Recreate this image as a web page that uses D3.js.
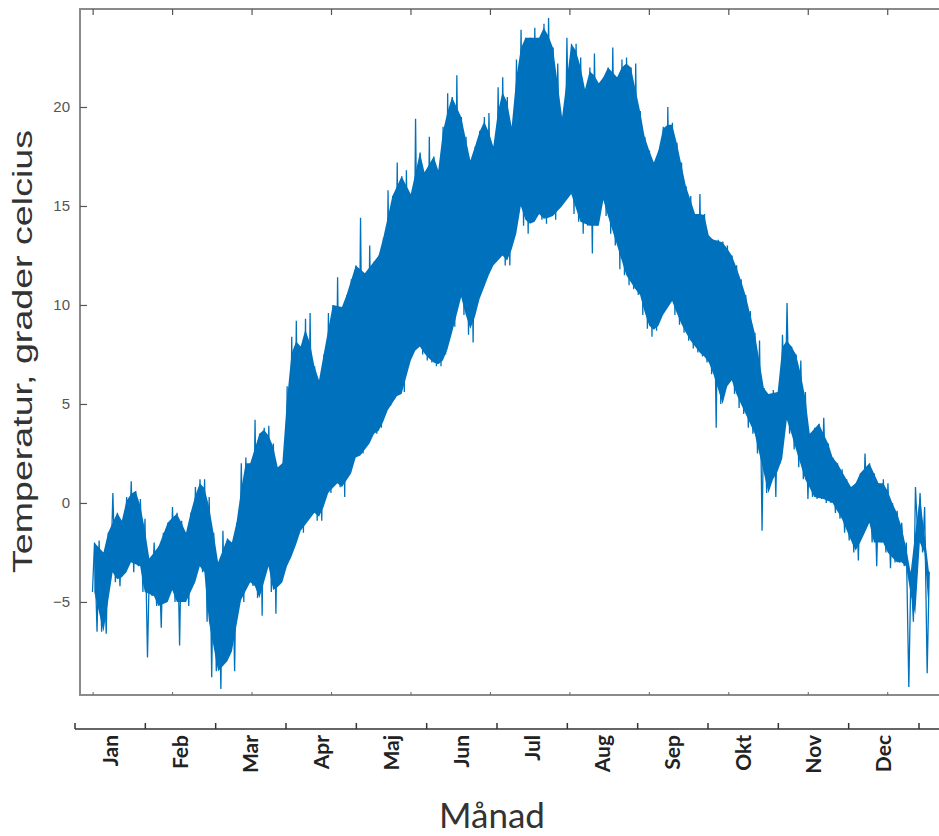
<!DOCTYPE html>
<html>
<head>
<meta charset="utf-8">
<script src="https://cdn.jsdelivr.net/npm/d3@7"></script>
<style>
  html, body { margin: 0; padding: 0; background: #ffffff; }
  svg { display: block; }
</style>
</head>
<body>
<script>
// Hourly air temperature over one year, summarised as the lowest and highest
// reading in each two-day block (degrees Celsius).
const tempMin = [
  -4.5, -6.5, -6.5, -6.6, -3.5, -4.0, -4.2, -3.5, -3.0, -3.5,
  -3.2, -4.5, -7.8, -4.7, -5.2, -6.3, -5.0, -4.4, -5.0, -7.2,
  -5.0, -5.2, -4.0, -3.2, -3.5, -6.0, -8.8, -8.5, -9.4, -8.0,
  -7.5, -8.5, -4.9, -5.0, -4.0, -4.2, -4.8, -5.7, -3.2, -4.5,
  -5.6, -4.0, -3.2, -2.8, -2.2, -1.4, -1.5, -0.8, -0.5, -0.9,
  -0.9, 0.5, 0.5, 1.0, 0.8, 0.3, 1.5, 2.3, 2.4, 2.5,
  3.0, 3.5, 3.5, 3.8, 4.7, 4.9, 5.4, 5.5, 5.6, 7.2,
  7.7, 7.9, 7.5, 7.2, 7.1, 6.9, 6.9, 7.5, 8.6, 8.9,
  10.4, 9.5, 8.5, 8.1, 10.3, 10.8, 11.5, 12.0, 12.2, 12.5,
  12.0, 12.0, 13.6, 15.0, 14.0, 13.6, 14.2, 14.6, 14.3, 14.1,
  14.5, 14.3, 15.0, 15.3, 15.6, 14.6, 14.2, 13.6, 14.0, 12.6,
  14.0, 15.3, 14.5, 13.6, 13.0, 11.8, 11.5, 11.0, 10.8, 10.5,
  9.5, 8.8, 8.4, 8.7, 9.5, 9.8, 10.2, 9.5, 9.0, 8.6,
  8.2, 7.8, 7.6, 7.4, 7.1, 6.5, 3.8, 5.0, 5.9, 6.2,
  5.5, 4.8, 4.5, 3.8, 3.5, 2.5, -1.4, 0.5, 1.2, 0.3,
  2.0, 4.2, 3.5, 2.7, 1.8, 1.2, 0.2, 0.3, 0.2, 0.2,
  0.0, 0.0, -0.5, -0.8, -1.5, -1.9, -2.5, -2.9, -1.5, -1.0,
  -2.0, -3.2, -2.0, -2.5, -3.3, -3.0, -3.0, -3.2, -9.3, -6.0,
  -2.0, -2.5, -8.6
];
const tempMax = [
  -2.0, -1.9, -2.5, -1.5, 0.5, -0.5, -0.9, 0.3, 1.1, 0.6,
  0.2, -0.8, -2.8, -2.0, -2.2, -1.5, -1.0, -0.2, -0.5, -0.9,
  -1.5, -0.5, 0.8, 1.2, 1.2, 0.3, -1.5, -3.0, -1.4, -1.8,
  -2.0, -1.0, 2.0, 2.3, 2.0, 4.2, 3.5, 3.8, 3.9, 3.0,
  1.8, 2.0, 5.9, 8.4, 9.2, 7.9, 9.3, 9.6, 6.9, 6.2,
  7.5, 9.6, 10.0, 11.4, 9.9, 10.5, 11.3, 12.0, 14.4, 11.6,
  13.0, 12.2, 12.5, 13.4, 15.8, 15.5, 17.2, 16.5, 16.8, 15.6,
  19.4, 17.7, 16.7, 18.5, 17.5, 16.8, 19.0, 20.7, 20.5, 21.6,
  19.5, 18.5, 17.3, 18.0, 18.8, 19.5, 19.7, 18.0, 21.0, 21.5,
  20.5, 19.0, 22.4, 23.9, 23.5, 23.5, 24.0, 23.5, 24.2, 24.5,
  23.0, 22.2, 19.5, 23.5, 23.2, 23.2, 22.5, 20.9, 22.0, 22.7,
  21.2, 21.5, 22.0, 23.0, 21.5, 22.4, 22.5, 22.0, 22.2, 19.8,
  18.5, 17.8, 17.2, 17.8, 19.0, 20.0, 19.2, 18.2, 17.2, 16.0,
  15.5, 14.6, 15.6, 14.6, 13.5, 13.3, 13.3, 13.2, 13.0, 12.5,
  12.0, 11.3, 10.5, 9.7, 8.6, 8.2, 5.8, 5.5, 5.7, 5.6,
  8.5, 10.1, 7.9, 7.5, 7.2, 5.6, 3.5, 3.8, 4.0, 4.3,
  3.0, 2.3, 2.0, 1.7, 1.2, 0.8, 1.0, 1.5, 2.5, 2.0,
  1.5, 1.0, 1.2, 1.0, 0.0, -0.4, -1.0, -2.0, -3.5, 0.8,
  0.5, -0.2, -3.5
];
const blockDays = 2;             // length of each min/max block, days
const tempTicks = [-5, 0, 5, 10, 15, 20];
const months = ["Jan", "Feb", "Mar", "Apr", "Maj", "Jun", "Jul", "Aug", "Sep", "Okt", "Nov", "Dec"];
const frameTickStep = 34.65;     // spacing of the unlabelled frame ticks, days

const W = 939, H = 836;
const plot = { left: 80, top: 9, bottom: 695, right: 939 };
const lineColor = "#0072bd";

const svg = d3.select("body").append("svg").attr("width", W).attr("height", H);

const x = d3.scaleLinear().domain([0, 365]).range([92, 929]);
const y = d3.scaleLinear().domain([-9.7, 24.95]).range([plot.bottom, plot.top]);

// Records: block start day with its min and max.
const blocks = tempMin.map((lo, i) => ({ day: i * blockDays, lo, hi: tempMax[i] }));

// Core of the band: an isolated extreme is left to the trace alone, so it
// shows up as a thin spike instead of widening the filled band.
const core = blocks.map((d, i) => {
  const p = blocks[Math.max(0, i - 1)], n = blocks[Math.min(blocks.length - 1, i + 1)];
  return {
    day: d.day,
    lo: Math.max(d.lo, (p.lo + n.lo) / 2),
    hi: Math.min(d.hi, (p.hi + n.hi) / 2)
  };
});

svg.append("clipPath").attr("id", "plotClip")
  .append("rect")
  .attr("x", plot.left).attr("y", plot.top)
  .attr("width", plot.right - plot.left).attr("height", plot.bottom - plot.top);

const g = svg.append("g").attr("clip-path", "url(#plotClip)");

g.append("path")
  .datum(core)
  .attr("fill", lineColor)
  .attr("d", d3.area()
    .x(d => x(d.day + blockDays / 2))
    .y0(d => y(d.lo))
    .y1(d => y(d.hi)));

// Trace: the minimum early in each block, the maximum later in the block
const trace = [];
blocks.forEach(d => {
  trace.push({ day: d.day + 0.2, v: d.lo });
  trace.push({ day: d.day + 1.1, v: d.hi });
});
trace.push({ day: 365, v: blocks[blocks.length - 1].hi });
g.append("path")
  .datum(trace)
  .attr("fill", "none")
  .attr("stroke", lineColor)
  .attr("stroke-width", 1.3)
  .attr("stroke-linejoin", "miter")
  .attr("stroke-miterlimit", 4)
  .attr("d", d3.line().x(d => x(d.day)).y(d => y(d.v)));

// Frame (left, top and bottom edges)
svg.append("path")
  .attr("fill", "none").attr("stroke", "#8a8a8a").attr("stroke-width", 2)
  .attr("d", d3.line()([[plot.right, plot.top], [plot.left, plot.top], [plot.left, plot.bottom], [plot.right, plot.bottom]]));

const frameTicks = d3.range(0.5, 365, frameTickStep);
svg.append("g").selectAll("line").data(frameTicks).join("line")
  .attr("x1", d => x(d)).attr("x2", d => x(d))
  .attr("y1", plot.top).attr("y2", plot.top + 6)
  .attr("stroke", "#555").attr("stroke-width", 1.2);
svg.append("g").selectAll("line").data(frameTicks).join("line")
  .attr("x1", d => x(d)).attr("x2", d => x(d))
  .attr("y1", plot.bottom).attr("y2", plot.bottom - 3)
  .attr("stroke", "#666").attr("stroke-width", 1);

// Temperature axis
const yAxis = svg.append("g")
  .attr("transform", `translate(${plot.left},0)`)
  .call(d3.axisLeft(y).tickValues(tempTicks).tickSize(-7).tickPadding(10).tickFormat(d3.format("d")));
yAxis.select(".domain").remove();
yAxis.selectAll(".tick line").attr("stroke", "#555").attr("stroke-width", 1.2);
yAxis.selectAll(".tick text")
  .attr("fill", "#555")
  .style("font-family", "'Liberation Sans', Arial, sans-serif")
  .style("font-size", "15px");

svg.append("text")
  .attr("transform", `translate(32,${(130 + 573) / 2}) rotate(-90)`)
  .attr("text-anchor", "middle")
  .attr("textLength", 443)
  .attr("lengthAdjust", "spacingAndGlyphs")
  .attr("fill", "#333")
  .style("font-family", "'Liberation Sans', Arial, sans-serif")
  .style("font-size", "27px")
  .text("Temperatur, grader celcius");

// Month axis
const m = d3.scaleLinear().domain([0, 12]).range([75, 919]);
const monthAxisY = 729;
const mAxis = svg.append("g");
mAxis.append("line")
  .attr("x1", m(0)).attr("x2", W)
  .attr("y1", monthAxisY).attr("y2", monthAxisY)
  .attr("stroke", "#333").attr("stroke-width", 1.5);
mAxis.selectAll("line.tick").data(d3.range(0, 13)).join("line")
  .attr("class", "tick")
  .attr("x1", d => m(d)).attr("x2", d => m(d))
  .attr("y1", monthAxisY).attr("y2", monthAxisY - 6)
  .attr("stroke", "#333").attr("stroke-width", 1.5);
mAxis.selectAll("text").data(months).join("text")
  .attr("transform", (d, i) => `translate(${m(i + 0.5)},735) rotate(-90)`)
  .attr("text-anchor", "end")
  .attr("dy", "0.35em")
  .attr("fill", "#222")
  .style("font-family", "Lato, 'Open Sans', sans-serif")
  .style("font-weight", "700")
  .style("font-size", "21px")
  .text(d => d);

svg.append("text")
  .attr("x", 492).attr("y", 828)
  .attr("text-anchor", "middle")
  .attr("fill", "#333")
  .style("font-family", "Lato, 'Open Sans', sans-serif")
  .style("font-size", "35px")
  .text("Månad");
</script>
</body>
</html>
